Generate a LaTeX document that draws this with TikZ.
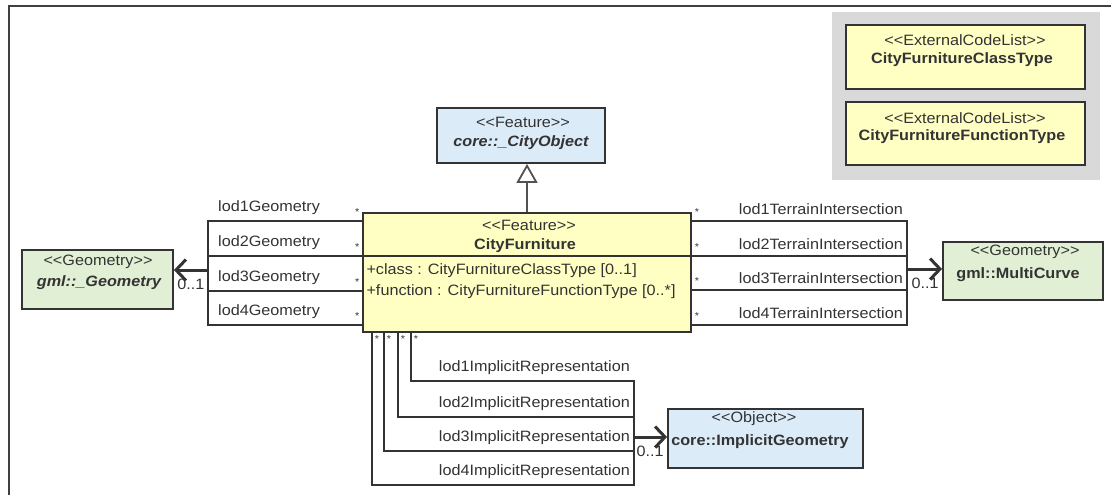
\documentclass[tikz,border=0pt]{standalone}
\usepackage{fontspec}
\setmainfont{Liberation Sans}[FakeStretch=1.08]
\usetikzlibrary{arrows.meta}
\definecolor{furnyellow}{HTML}{FFFFC4}
\definecolor{objblue}{HTML}{DCEBF8}
\definecolor{geomgreen}{HTML}{E1F0D5}
\definecolor{legendgray}{HTML}{D9D9D9}
\definecolor{umlline}{HTML}{333333}
\newcommand{\stype}[1]{<{}<#1>{}>}
\begin{document}
\begin{tikzpicture}[x=1pt,y=-1pt,
font=\fontsize{15}{17}\selectfont, text=umlline,
cls/.style={draw=umlline, line width=1.8pt, inner sep=0pt},
cname/.style={font=\fontsize{15}{17}\selectfont\bfseries},
assoc/.style={draw=umlline, line width=1.7pt},
navi/.style={draw=umlline, line width=3pt, -{Straight Barb[length=10pt,width=21pt]}},
gen/.style={draw=umlline!85, line width=1.8pt, -{Triangle[open,length=19pt,width=21pt]}},
star/.style={font=\fontsize{10}{10}\selectfont, inner sep=2pt},
mult/.style={inner sep=2pt}]
\useasboundingbox (0,0) rectangle (1111,495);
\draw [line width=1.5pt, black!75] (9,495) -- (9,6) -- (1111,6);
% code lists
\node [fill=legendgray, minimum width=268pt, minimum height=168pt] (legend) at (966,96) {};
\node [cls, fill=furnyellow, minimum width=239pt, minimum height=64pt] (classtype) at (965.5,57) {};
\node (classtype-st) at (965,40) {\stype{ExternalCodeList}};
\node [cname] (classtype-nm) at (962,60) {CityFurnitureClassType};
\node [cls, fill=furnyellow, minimum width=239pt, minimum height=63pt] (functype) at (965.5,133.5) {};
\node (functype-st) at (965,118) {\stype{ExternalCodeList}};
\node [cname] (functype-nm) at (962,137) {CityFurnitureFunctionType};
% classes
\node [cls, fill=objblue, minimum width=168pt, minimum height=55pt] (cityobj) at (521,135.5) {};
\node (cityobj-st) at (523,122) {\stype{Feature}};
\node [cname, font=\fontsize{15}{17}\selectfont\bfseries\itshape] (cityobj-nm) at (521,143) {core::\_CityObject};
\node [cls, fill=furnyellow, minimum width=328pt, minimum height=119pt] (furn) at (527,272.5) {};
\node (furn-st) at (529,225) {\stype{Feature}};
\node [cname] (furn-nm) at (525,246) {CityFurniture};
\draw [cls] (furn.west |- 0,256) -- (furn.east |- 0,256);
\node [anchor=west] (furn-a1) at (363,271) {+class : CityFurnitureClassType [0..1]};
\node [anchor=west] (furn-a2) at (363,292) {+function : CityFurnitureFunctionType [0..*]};
\node [cls, fill=geomgreen, minimum width=151pt, minimum height=59pt] (geom) at (97.5,279.5) {};
\node (geom-st) at (98,262) {\stype{Geometry}};
\node [cname, font=\fontsize{15}{17}\selectfont\bfseries\itshape] (geom-nm) at (99,283) {gml::\_Geometry};
\node [cls, fill=geomgreen, minimum width=160pt, minimum height=58pt] (curve) at (1023,271) {};
\node (curve-st) at (1025,252) {\stype{Geometry}};
\node [cname] (curve-nm) at (1018,275) {gml::MultiCurve};
\node [cls, fill=objblue, minimum width=195pt, minimum height=59pt] (impl) at (765.5,438.5) {};
\node (impl-st) at (754,419) {\stype{Object}};
\node [cname] (impl-nm) at (760,442) {core::ImplicitGeometry};
\draw [gen] (furn.north) -- (furn.north |- cityobj.south);
% lod geometries
\coordinate (gjoin) at (208,270);
\draw [assoc] (furn.west |- 0,221) node[star, above left, yshift=3pt]{*} -| (gjoin)
      node[pos=0.5, anchor=south west, xshift=6pt, yshift=2pt]{lod1Geometry};
\draw [assoc] (furn.west |- 0,256) node[star, above left, yshift=3pt]{*} -| (gjoin)
      node[pos=0.5, anchor=south west, xshift=6pt, yshift=2pt]{lod2Geometry};
\draw [assoc] (furn.west |- 0,291) node[star, above left, yshift=3pt]{*} -| (gjoin)
      node[pos=0.5, anchor=south west, xshift=6pt, yshift=2pt]{lod3Geometry};
\draw [assoc] (furn.west |- 0,325) node[star, above left, yshift=3pt]{*} -| (gjoin)
      node[pos=0.5, anchor=south west, xshift=6pt, yshift=2pt]{lod4Geometry};
\draw [navi] (gjoin) -- (gjoin -| geom.east) node[mult, below right, yshift=-6pt]{0..1};
% terrain intersections
\coordinate (tjoin) at (907,269);
\draw [assoc] (furn.east |- 0,221) node[star, above right, yshift=3pt]{*} -| (tjoin)
      node[pos=0.5, anchor=south east, yshift=2pt]{lod1TerrainIntersection};
\draw [assoc] (furn.east |- 0,256) node[star, above right, yshift=3pt]{*} -| (tjoin)
      node[pos=0.5, anchor=south east, yshift=2pt]{lod2TerrainIntersection};
\draw [assoc] (furn.east |- 0,290) node[star, above right, yshift=3pt]{*} -| (tjoin)
      node[pos=0.5, anchor=south east, yshift=2pt]{lod3TerrainIntersection};
\draw [assoc] (furn.east |- 0,325) node[star, above right, yshift=3pt]{*} -| (tjoin)
      node[pos=0.5, anchor=south east, yshift=2pt]{lod4TerrainIntersection};
\draw [navi] (tjoin) -- (tjoin -| curve.west) node[mult, below left, yshift=-6pt]{0..1};
% implicit representations
\coordinate (ijoin) at (634,437);
\draw [assoc] (furn.south -| 411,0) node[star, below right]{*} |- (ijoin |- 0,381)
      node[anchor=south east, yshift=2pt]{lod1ImplicitRepresentation} -- (ijoin);
\draw [assoc] (furn.south -| 398,0) node[star, below right]{*} |- (ijoin |- 0,417)
      node[anchor=south east, yshift=2pt]{lod2ImplicitRepresentation} -- (ijoin);
\draw [assoc] (furn.south -| 384,0) node[star, below right]{*} |- (ijoin |- 0,451)
      node[anchor=south east, yshift=2pt]{lod3ImplicitRepresentation} -- (ijoin);
\draw [assoc] (furn.south -| 372,0) node[star, below right]{*} |- (ijoin |- 0,485)
      node[anchor=south east, yshift=2pt]{lod4ImplicitRepresentation} -- (ijoin);
\draw [navi] (ijoin) -- (ijoin -| impl.west) node[mult, below left, yshift=-6pt]{0..1};
\end{tikzpicture}
\end{document}
